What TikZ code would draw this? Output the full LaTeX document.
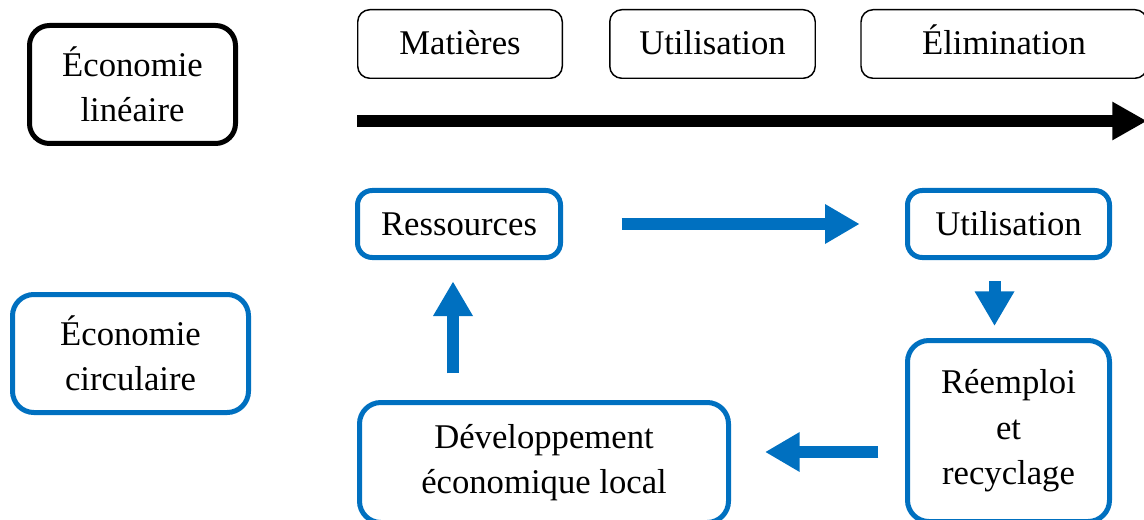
\documentclass[tikz,border=0pt]{standalone}
\usepackage{fontspec}
\setmainfont{Liberation Serif}
\usetikzlibrary{arrows.meta}
\definecolor{cblue}{HTML}{0070C0}
\tikzset{
  txt/.style={font=\fontsize{26pt}{34pt}\selectfont, align=center, inner sep=0pt, text=black},
  oneline/.style={text height=21pt, text depth=4.5pt},
  bigbox/.style={txt, draw=black, line width=3.75pt, rounded corners=15pt, fill=white},
  thinbox/.style={txt, oneline, draw=black, line width=1.1pt, rounded corners=9pt, minimum height=51.4pt, fill=white},
  bluebox/.style={txt, oneline, draw=cblue, line width=3.75pt, rounded corners=11pt, fill=white},
  bluebig/.style={txt, draw=cblue, line width=3.75pt, rounded corners=16pt, fill=white},
  blackarrow/.style={draw=black, line width=9pt, -{Triangle[length=26pt,width=27pt]}},
  bluearrow/.style={draw=cblue, line width=9pt, -{Triangle[length=26pt,width=28pt]}}
}
\begin{document}
\begin{tikzpicture}[x=0.75pt,y=-0.75pt]
\useasboundingbox (0,0) rectangle (1144,520);
\begin{scope}
\clip (0,0) rectangle (1144,520);
% linear economy
\node[bigbox, minimum width=154.5pt, minimum height=88.5pt] (lin) at (132.5,84.5) {Économie\\linéaire};
\node[thinbox, minimum width=153.4pt] (mat) at (460,44) {Matières};
\node[thinbox, minimum width=154.1pt] (ut1) at (712.5,44) {Utilisation};
\node[thinbox, minimum width=214.5pt] (eli) at (1004,44) {Élimination};
\coordinate (lstart) at (357,121);
\coordinate (lend) at (1147,121);
\draw[blackarrow] (lstart) -- (lend);
% circular economy
\node[bluebig, minimum width=177pt, minimum height=88.5pt] (circ) at (130.5,353.5) {Économie\\circulaire};
\node[bluebox, minimum width=152.25pt, minimum height=50.25pt] (res) at (459,224) {Ressources};
\node[bluebox, minimum width=151.5pt, minimum height=50.25pt] (ut2) at (1008.5,224) {Utilisation};
\node[bluebig, minimum width=151.5pt, minimum height=135.75pt] (ree) at (1008.5,431) {Réemploi\\et\\recyclage};
\node[bluebig, minimum width=276.75pt, minimum height=90pt] (dev) at (544,462.5) {Développement\\économique local};
% arrows
\draw[bluearrow, shorten <=44pt, shorten >=34pt] (res.east) -- (ut2.west);
\draw[bluearrow, shorten <=16pt, shorten >=9pt] ([xshift=-10.5pt]ut2.south) -- ([xshift=-10.5pt]ut2.south |- ree.north);
\draw[bluearrow, shorten <=20pt, shorten >=25.5pt] (ree.west |- 0,452) -- (dev.east |- 0,452);
\draw[bluearrow, shorten <=20pt, shorten >=16pt] ([xshift=-4.5pt]res.south |- dev.north) -- ([xshift=-4.5pt]res.south);
\end{scope}
\end{tikzpicture}
\end{document}
